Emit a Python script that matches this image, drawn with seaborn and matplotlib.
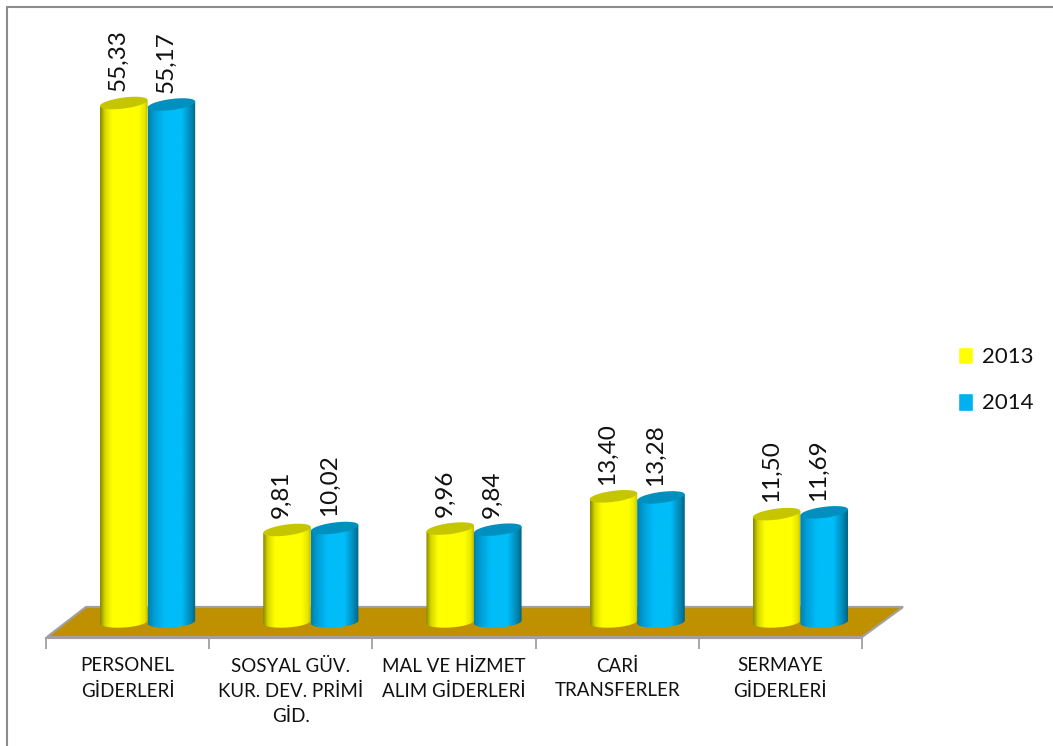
import numpy as np
import pandas as pd
import matplotlib
matplotlib.use('Agg')
import matplotlib.pyplot as plt
import seaborn as sns
from matplotlib.colors import LinearSegmentedColormap
from matplotlib.patches import Polygon, Rectangle, Patch

categories = ['PERSONEL\nGİDERLERİ', 'SOSYAL GÜV.\nKUR. DEV. PRİMİ\nGİD.',
              'MAL VE HİZMET\nALIM GİDERLERİ', 'CARİ\nTRANSFERLER', 'SERMAYE\nGİDERLERİ']
values_2013 = [55.33, 9.81, 9.96, 13.40, 11.50]
values_2014 = [55.17, 10.02, 9.84, 13.28, 11.69]
years = ['2013', '2014']

W, H = 1053, 746
sns.set_theme(style='white')
plt.rcParams['font.family'] = ['Lato', 'DejaVu Sans']

df = pd.DataFrame({
    'category': categories * 2,
    'value': values_2013 + values_2014,
    'year': [years[0]] * 5 + [years[1]] * 5,
})

fig = plt.figure(figsize=(W / 100, H / 100), dpi=100, facecolor='white')


def px(x, y):
    return x / W, 1 - y / H


# outer frame and floor are positioned in pixels
fig.add_artist(Rectangle((7 / W, -0.1), 1.2, 1.1 - 7 / H, transform=fig.transFigure,
                         fill=False, edgecolor='#8c8c8c', linewidth=1.5, zorder=-2))
floor_pts = [px(47, 637), px(862, 637), px(903, 607), px(86, 607)]
fig.add_artist(Polygon(floor_pts, closed=True, transform=fig.transFigure, facecolor='#BF9000',
                       edgecolor='#a0a0a0', linewidth=1.6, zorder=-1))

# axis with ticks + category labels sits on the front edge of the floor
tick_ax = fig.add_axes([46 / W, 1 - 638 / H, 816 / W, 1 / H], facecolor='none')
tick_ax.set_xlim(-0.5, 4.5)
tick_ax.set_ylim(0, 1)
tick_ax.set_yticks([])
for s in tick_ax.spines.values():
    s.set_visible(False)
tick_ax.spines['bottom'].set_visible(True)
tick_ax.spines['bottom'].set_color('#a0a0a0')
tick_ax.spines['bottom'].set_linewidth(1.5)
tick_ax.set_xticks(np.arange(5))
tick_ax.set_xticklabels(categories, fontsize=13.5, color='#111111', linespacing=1.56)
tick_ax.set_xticks(np.arange(-0.5, 5), minor=True)
tick_ax.tick_params(axis='x', which='major', length=0, pad=14)
tick_ax.tick_params(axis='x', which='minor', length=8, width=1.3, color='#a0a0a0', bottom=True)

# bars
y_low = -2
y_high = 600 / 9.38
ax = fig.add_axes([66 / W, 1 - (622 - y_low * 9.38) / H, 816 / W, (600 - y_low * 9.38) / H], facecolor='none')
sns.barplot(data=df, x='category', y='value', hue='year', palette=['#FFFF00', '#00B0F0'],
            width=0.583, gap=0, saturation=1, legend=False, ax=ax)
ax.axis('off')

yellow_cmap = LinearSegmentedColormap.from_list('y', [(0, '#858500'), (0.1, '#d6d600'), (0.25, '#ffff00'),
                                                      (0.8, '#ffff00'), (0.94, '#e4e400'), (1, '#b8b800')])
blue_cmap = LinearSegmentedColormap.from_list('b', [(0, '#0080ad'), (0.14, '#009fd6'), (0.35, '#00bcf8'),
                                                    (0.7, '#00bcf8'), (0.9, '#0087b4'), (1, '#00617f')])
styles = [(yellow_cmap, '#c6c600'), (blue_cmap, '#0090bf')]

cap_h = 5.5 / 9.38
tilt = 3 / 9.38
t = np.linspace(0, 2 * np.pi, 80)
grad = np.linspace(0, 1, 256).reshape(1, -1)

for container, vals, (cmap, top_col) in zip(ax.containers, (values_2013, values_2014), styles):
    for bar in container:
        bar.set_visible(False)
        x0, w, top = bar.get_x(), bar.get_width(), bar.get_height()
        cx = x0 + w / 2
        # cylinder body with a rounded bottom
        tb = np.linspace(np.pi, 2 * np.pi, 40)
        body = np.column_stack([cx + w / 2 * np.cos(tb), cap_h * np.sin(tb) + tilt * 0.5 * np.cos(tb)])
        body = np.vstack([body, [x0 + w, top + tilt], [x0, top - tilt]])
        clip = Polygon(body, closed=True, transform=ax.transData, facecolor='none', edgecolor='none')
        ax.add_patch(clip)
        im = ax.imshow(grad, cmap=cmap, aspect='auto', extent=(x0, x0 + w, y_low, top + 2), zorder=3)
        im.set_clip_path(clip)
        ax.fill(cx + w / 2 * np.cos(t), top + cap_h * np.sin(t) + tilt * np.cos(t),
                color=top_col, zorder=4, linewidth=0)
    labels = ax.bar_label(container, labels=[f'{v:.2f}'.replace('.', ',') for v in vals], rotation=90,
                          fontsize=17.5, color='#111111', padding=8.5, zorder=5)
    for lab in labels:
        lab.xyann = (-4, 8.5)

ax.set_xlim(-0.5, 4.5)
ax.set_ylim(y_low, y_high)

handles = [Patch(facecolor='#FFFF00', label=years[0]), Patch(facecolor='#00B0F0', label=years[1])]
fig.legend(handles=handles, loc='center left', bbox_to_anchor=(938 / W, 1 - 380 / H), frameon=False,
           fontsize=16, handlelength=0.68, handleheight=0.85, handletextpad=0.38, labelspacing=1.16,
           labelcolor='#111111')

plt.savefig('out.png', dpi=100)
